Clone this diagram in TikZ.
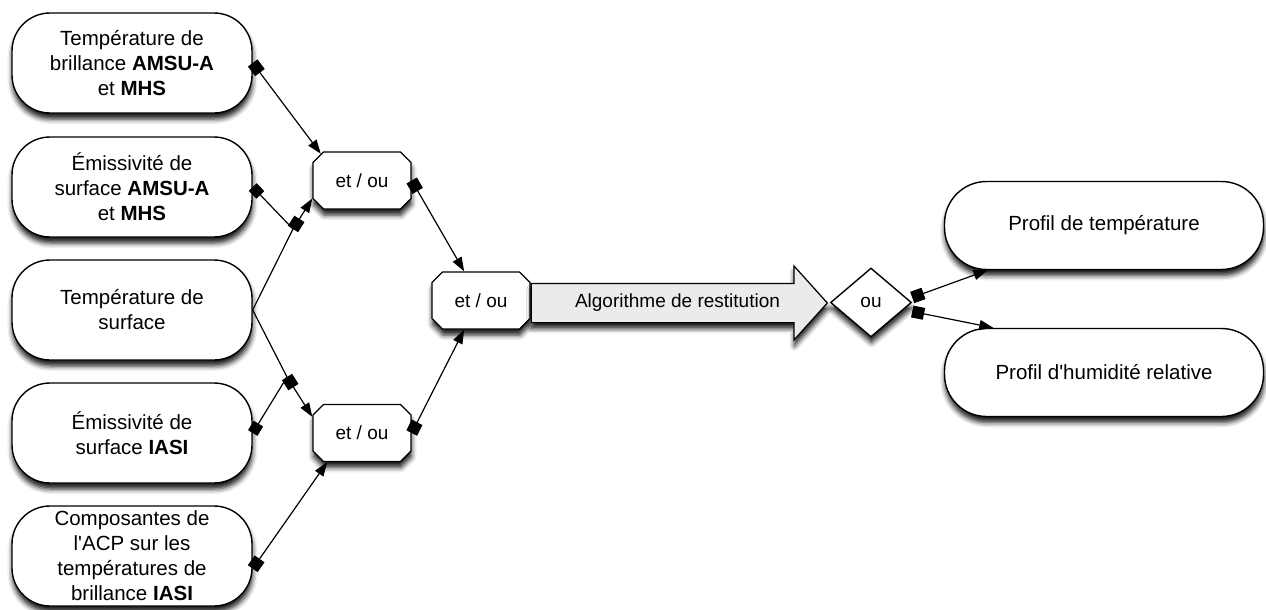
\documentclass[tikz,border=0pt]{standalone}
\usepackage{fontspec}
\setmainfont{Liberation Sans}
\usetikzlibrary{arrows.meta, positioning, calc, shapes.misc, shapes.geometric, shapes.arrows, shadows.blur}

\begin{document}
\begin{tikzpicture}[x=1pt, y=-1pt,
  dropshade/.style={blur shadow={shadow xshift=0.5pt, shadow yshift=-6pt, shadow blur radius=5pt, shadow opacity=90}},
  srcbox/.style={draw, line width=1.4pt, fill=white, rounded corners=38pt, minimum width=240pt, minimum height=100pt, inner sep=0pt, align=center, font=\fontsize{20.5}{25}\selectfont, dropshade},
  outbox/.style={srcbox, rounded corners=42pt, minimum width=319pt, minimum height=88pt},
  gatebox/.style={chamfered rectangle, chamfered rectangle xsep=11pt, draw, line width=1.4pt, fill=white, minimum width=98pt, minimum height=57pt, inner sep=0pt, font=\fontsize{19}{23}\selectfont, dropshade},
  orgate/.style={diamond, draw, line width=1.4pt, fill=white, minimum width=81pt, minimum height=69pt, inner sep=0pt, font=\fontsize{19}{23}\selectfont, dropshade},
  algoarrow/.style={single arrow, draw, line width=1.2pt, fill=black!8, single arrow head extend=17.5pt, single arrow tip angle=96, minimum height=296pt, text height=12pt, text depth=4pt, inner ysep=11pt, inner xsep=0pt, font=\fontsize{19}{23}\selectfont, dropshade},
  link/.style={line width=1.2pt},
  feed/.style={link, {Square[length=12pt,width=12pt]}-{Triangle[length=14pt,width=10pt]}},
  tailonly/.style={link, {Square[length=11pt,width=11pt]}-}]
  \useasboundingbox (0,0) rectangle (1266,610);

  % --- entrees ---
  \node[srcbox] (tbrill) at (132,63) {Température de\\ brillance \textbf{AMSU-A}\\ et \textbf{MHS}};
  \node[srcbox] (emamsu) at (132,187) {Émissivité de\\ surface \textbf{AMSU-A}\\ et \textbf{MHS}};
  \node[srcbox] (tsurf) at (132,310) {Température de\\ surface};
  \node[srcbox] (emiasi) at (132,433) {Émissivité de\\ surface \textbf{IASI}};
  \node[srcbox] (acp) at (132,556) {Composantes de\\ l\textquotesingle ACP sur les\\ températures de\\ brillance \textbf{IASI}};

  % --- combinaisons ---
  \node[gatebox] (and1) at (362,180.5) {et / ou};
  \node[gatebox] (and2) at (362,433) {et / ou};
  \node[gatebox] (and3) at (481,300.5) {et / ou};
  \node[algoarrow, anchor=tail] (algo) at ([yshift=-2.5pt]and3.east) {\hspace*{14pt}Algorithme de restitution};
  \node[orgate] (orgate) at (871,302.5) {ou};

  % --- sorties ---
  \node[outbox] (ptemp) at (1104,225.5) {Profil de température};
  \node[outbox] (phum) at (1104,372.5) {Profil d\textquotesingle humidité relative};

  \coordinate (j1) at (293,229);
  \coordinate (j2) at (287,377);

  % connecteurs
  \draw[feed] (tbrill.east) -- (and1.147);
  \draw[tailonly] (emamsu.east) -- (j1);
  \draw[link] (tsurf.east) -- (j1);
  \draw[feed] (j1) -- (and1.200);
  \draw[link] (tsurf.east) -- (j2);
  \draw[tailonly] (emiasi.east) -- (j2);
  \draw[feed] (j2) -- (and2.162);
  \draw[feed] (acp.-6) -- (and2.220);
  \draw[feed] (and1.east) -- (and3.120);
  \draw[feed] (and2.east) -- (and3.240);
  \draw[feed] ([yshift=5pt]orgate.east) -- (ptemp.201);
  \draw[feed] ([yshift=-9pt]orgate.east) -- (phum.158);
\end{tikzpicture}
\end{document}
